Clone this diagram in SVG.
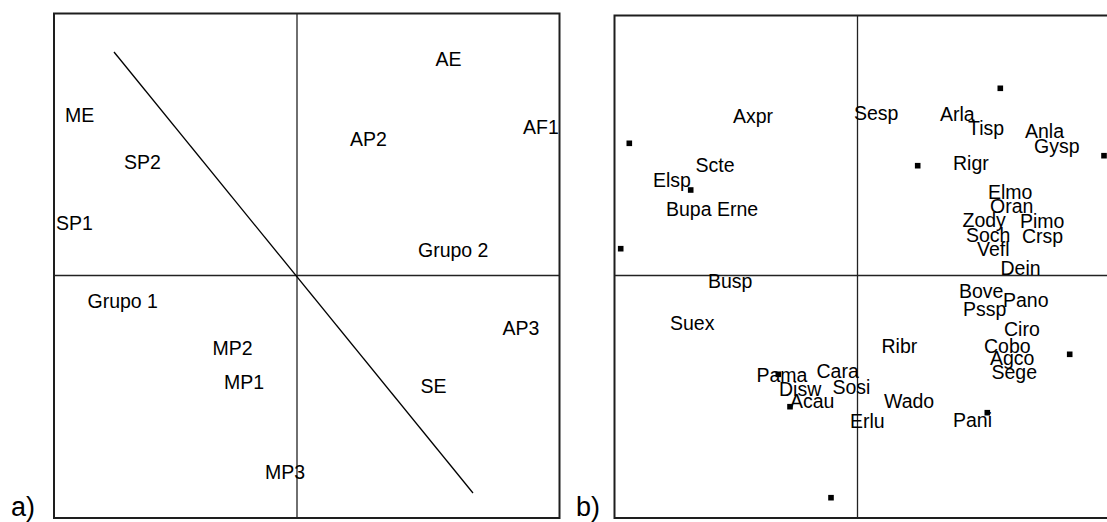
<svg xmlns="http://www.w3.org/2000/svg" width="1107" height="522" viewBox="0 0 1107 522">
<style>
.frame{fill:none;stroke:#1e1e1e;stroke-width:2}
.axis{stroke:#222;stroke-width:1.3;fill:none}
.diag{stroke:#000;stroke-width:1.3;fill:none}
text{font-family:"Liberation Sans",Arial,sans-serif;font-size:19.5px;fill:#000}
.lab{font-size:27px}
.pt{fill:#000}
</style>
<defs>
<rect id="sq" x="-2.8" y="-2.8" width="5.6" height="5.6" class="pt"/>
</defs>
<g id="panel-a">
<rect class="frame" x="54" y="13.5" width="505.5" height="504.5"/>
<g id="connectors-a">
<line class="axis" x1="297" y1="13.5" x2="297" y2="518"/>
<line class="axis" x1="54" y1="275.5" x2="559.5" y2="275.5"/>
<line class="diag" x1="114" y1="52" x2="473" y2="493"/>
</g>
<g id="a-ME"><text x="65" y="121.5">ME</text></g>
<g id="a-SP2"><text x="124" y="168.5">SP2</text></g>
<g id="a-SP1"><text x="56" y="229.5">SP1</text></g>
<g id="a-AE"><text x="435.5" y="66">AE</text></g>
<g id="a-AF1"><text x="523" y="133.5">AF1</text></g>
<g id="a-AP2"><text x="350" y="145.5">AP2</text></g>
<g id="a-Grupo2"><text x="418" y="256.5">Grupo 2</text></g>
<g id="a-Grupo1"><text x="87.5" y="308">Grupo 1</text></g>
<g id="a-MP2"><text x="212.5" y="354.5">MP2</text></g>
<g id="a-MP1"><text x="224" y="388.5">MP1</text></g>
<g id="a-MP3"><text x="265" y="478.5">MP3</text></g>
<g id="a-AP3"><text x="502.5" y="335">AP3</text></g>
<g id="a-SE"><text x="420.5" y="392.5">SE</text></g>
<text class="lab" x="11" y="516">a)</text>
</g>
<g id="panel-b">
<rect class="frame" x="614.5" y="15.5" width="500" height="502.5"/>
<g id="connectors-b">
<line class="axis" x1="857.5" y1="15.5" x2="857.5" y2="518"/>
<line class="axis" x1="614.5" y1="275.5" x2="1107" y2="275.5"/>
</g>
<g id="points">
<use href="#sq" x="629.3" y="143.3"/>
<use href="#sq" x="690.7" y="190"/>
<use href="#sq" x="620.7" y="248.7"/>
<use href="#sq" x="1000.3" y="88.3"/>
<use href="#sq" x="917.7" y="165.7"/>
<use href="#sq" x="1104" y="155.7"/>
<use href="#sq" x="778.3" y="374.3"/>
<use href="#sq" x="790" y="406.7"/>
<use href="#sq" x="831" y="497.7"/>
<use href="#sq" x="1069.7" y="354.3"/>
<use href="#sq" x="987.3" y="412.7"/>
</g>
<g id="species">
<text x="733" y="122.5">Axpr</text>
<text x="695.5" y="171.5">Scte</text>
<text x="653" y="186.5">Elsp</text>
<text x="666" y="216">Bupa Erne</text>
<text x="854" y="120">Sesp</text>
<text x="940" y="121">Arla</text>
<text x="968" y="135">Tisp</text>
<text x="1025" y="137.5">Anla</text>
<text x="1034" y="153.3">Gysp</text>
<text x="953" y="170">Rigr</text>
<text x="988" y="199">Elmo</text>
<text x="990" y="213.3">Oran</text>
<text x="962.5" y="226.7">Zody</text>
<text x="1020" y="227.7">Pimo</text>
<text x="966" y="241.7">Soch</text>
<text x="1022" y="242.7">Crsp</text>
<text x="977" y="255.7">Vefl</text>
<text x="1000.5" y="275">Dein</text>
<text x="708" y="288.3">Busp</text>
<text x="670" y="330">Suex</text>
<text x="756.5" y="382.3">Pama</text>
<text x="816.5" y="377.7">Cara</text>
<text x="779" y="396">Disw</text>
<text x="790" y="408.3">Acau</text>
<text x="832.5" y="394.3">Sosi</text>
<text x="959" y="297.7">Bove</text>
<text x="1003" y="306.7">Pano</text>
<text x="963" y="315.7">Pssp</text>
<text x="1004" y="335.7">Ciro</text>
<text x="881.5" y="353.3">Ribr</text>
<text x="984" y="352.7">Cobo</text>
<text x="990" y="365">Agco</text>
<text x="991.5" y="379.3">Sege</text>
<text x="884" y="408.3">Wado</text>
<text x="850" y="428.3">Erlu</text>
<text x="953" y="426.7">Pani</text>
</g>
<text class="lab" x="576" y="516">b)</text>
</g>
</svg>
